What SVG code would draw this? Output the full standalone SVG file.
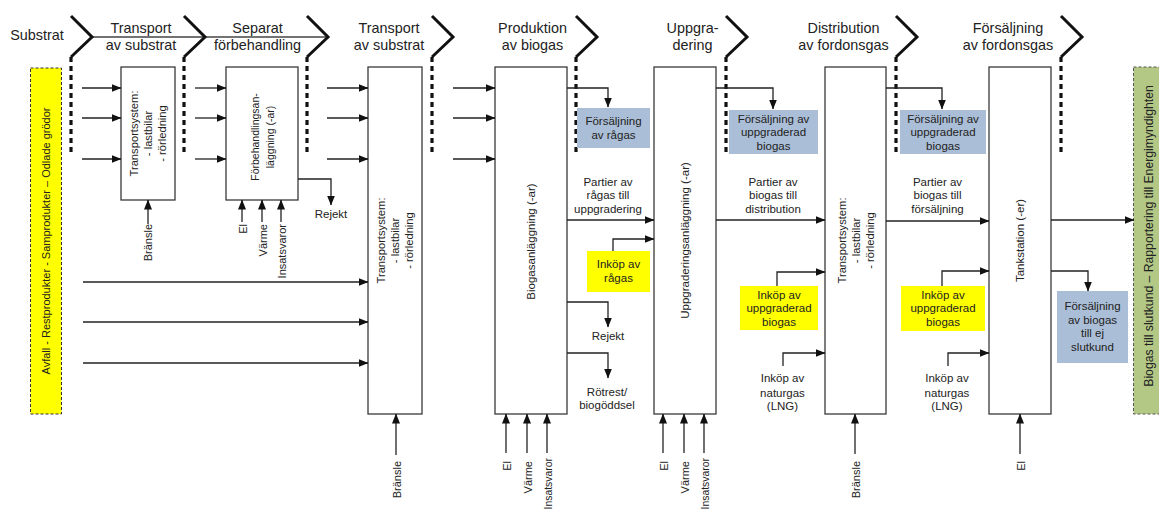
<svg xmlns="http://www.w3.org/2000/svg" width="1159" height="513" viewBox="0 0 1159 513">
<defs>
<marker id="ah" markerWidth="10" markerHeight="8" refX="9.5" refY="4" orient="auto" markerUnits="userSpaceOnUse"><path d="M0,0 L10,4 L0,8 Z" fill="#111"/></marker>
</defs>
<style>
text{font-family:"Liberation Sans",Arial,sans-serif;fill:#222}
.h{font-size:14.4px;text-anchor:middle}
.t{font-size:11.5px;text-anchor:middle}
.r{font-size:11px;text-anchor:end}
.ri{font-size:10.4px;text-anchor:end}
.box{fill:#fff;stroke:#3a3a3a;stroke-width:1.3}
.con{fill:none;stroke:#222;stroke-width:1.3}
.arr{marker-end:url(#ah)}
.chev{fill:none;stroke:#111;stroke-width:3}
.dot{fill:none;stroke:#111;stroke-width:3.2;stroke-dasharray:5 4}
.blue{fill:#abbed7}
.yel{fill:#ffff00}
</style>
<rect width="1159" height="513" fill="#fff"/>

<g id="header">
<path d="M92,37 H328" fill="none" stroke="#444" stroke-width="1.5"/>
<path class="chev" d="M71,16 L92,37 L71,57 M184,16 L205,37 L184,57 M307,16 L328,37 L307,57 M432,16 L453,37 L432,57 M576,16 L597,37 L576,57 M726,16 L747,37 L726,57 M896,16 L917,37 L896,57 M1061,16 L1082,37 L1061,57"/>
<path class="dot" d="M71,57 V155 M184,57 V155 M307,57 V155 M432,57 V155 M576,57 V155 M726,57 V155 M896,57 V155 M1061,57 V155"/>
<text class="h" x="37" y="40">Substrat</text>
<text class="h" x="141" y="33">Transport</text><text class="h" x="141" y="49.5">av substrat</text>
<text class="h" x="257.5" y="33">Separat</text><text class="h" x="257.5" y="49.5">förbehandling</text>
<text class="h" x="389" y="33">Transport</text><text class="h" x="389" y="49.5">av substrat</text>
<text class="h" x="532.5" y="33">Produktion</text><text class="h" x="532.5" y="49.5">av biogas</text>
<text class="h" x="692.5" y="33">Uppgra-</text><text class="h" x="692.5" y="49.5">dering</text>
<text class="h" x="843.5" y="33">Distribution</text><text class="h" x="843.5" y="49.5">av fordonsgas</text>
<text class="h" x="1008" y="33">Försäljning</text><text class="h" x="1008" y="49.5">av fordonsgas</text>
</g>

<g id="substrat">
<rect x="30.5" y="68" width="31" height="346" fill="#ffff00" stroke="#333" stroke-width="1" stroke-dasharray="3 2"/>
<text transform="translate(50,241) rotate(-90)" style="font-size:11px;text-anchor:middle">Avfall - Restprodukter - Samprodukter – Odlade grödor</text>
</g>

<g id="slutkund">
<rect x="1133.5" y="67" width="40" height="347" fill="#b4c886" stroke="#555" stroke-width="1" stroke-dasharray="3 2"/>
<text transform="translate(1153,236) rotate(-90)" style="font-size:12.2px;text-anchor:middle">Biogas till slutkund – Rapportering till Energimyndighten</text>
</g>

<g id="transport1">
<rect class="box" x="121" y="67" width="54" height="133"/>
<text class="t" transform="translate(148,133.5) rotate(-90)" style="font-size:11.2px"><tspan x="0" y="-10">Transportsystem:</tspan><tspan x="0" y="4">- lastbilar</tspan><tspan x="0" y="18">- rörledning</tspan></text>
</g>

<g id="forbehandling">
<rect class="box" x="226" y="67" width="72" height="133"/>
<text class="t" transform="translate(262,137) rotate(-90)" style="font-size:10.5px"><tspan x="0" y="-3">Förbehandlingsan-</tspan><tspan x="0" y="12">läggning (-ar)</tspan></text>
</g>

<g id="transport2">
<rect class="box" x="368" y="67" width="54" height="347"/>
<text class="t" transform="translate(395,240.5) rotate(-90)" style="font-size:11.2px"><tspan x="0" y="-10">Transportsystem:</tspan><tspan x="0" y="4">- lastbilar</tspan><tspan x="0" y="18">- rörledning</tspan></text>
</g>

<g id="biogasanlaggning">
<rect class="box" x="495" y="67" width="72" height="347"/>
<text class="t" transform="translate(535,241.5) rotate(-90)">Biogasanläggning (-ar)</text>
</g>

<g id="uppgradering">
<rect class="box" x="654" y="67" width="62" height="347"/>
<text class="t" transform="translate(689,240.5) rotate(-90)">Uppgraderingsanläggning (-ar)</text>
</g>

<g id="transport3">
<rect class="box" x="825" y="67" width="61" height="347"/>
<text class="t" transform="translate(856,240.5) rotate(-90)" style="font-size:11.2px"><tspan x="0" y="-10">Transportsystem:</tspan><tspan x="0" y="4">- lastbilar</tspan><tspan x="0" y="18">- rörledning</tspan></text>
</g>

<g id="tankstation">
<rect class="box" x="989" y="67" width="62" height="347"/>
<text class="t" transform="translate(1024,240.5) rotate(-90)">Tankstation (-er)</text>
</g>

<g id="salj-ragas">
<rect class="blue" x="577" y="108" width="73" height="40"/>
<text class="t" x="613.5" y="125">Försäljning</text><text class="t" x="613.5" y="138.5">av rågas</text>
</g>
<g id="salj-uppgr1">
<rect class="blue" x="729" y="110" width="89" height="44"/>
<text class="t" x="773.5" y="123">Försäljning av</text><text class="t" x="773.5" y="136.3">uppgraderad</text><text class="t" x="773.5" y="149.5">biogas</text>
</g>
<g id="salj-uppgr2">
<rect class="blue" x="900" y="110" width="86" height="44"/>
<text class="t" x="943" y="123">Försäljning av</text><text class="t" x="943" y="136.3">uppgraderad</text><text class="t" x="943" y="149.5">biogas</text>
</g>
<g id="salj-ej-slutkund">
<rect class="blue" x="1057" y="291" width="71" height="72"/>
<text class="t" x="1092.5" y="310">Försäljning</text><text class="t" x="1092.5" y="323.7">av biogas</text><text class="t" x="1092.5" y="337.4">till ej</text><text class="t" x="1092.5" y="351">slutkund</text>
</g>
<g id="inkop-ragas">
<rect class="yel" x="587" y="251" width="63" height="41"/>
<text class="t" x="618.5" y="268.3">Inköp av</text><text class="t" x="618.5" y="281.7">rågas</text>
</g>
<g id="inkop-uppgr1">
<rect class="yel" x="740" y="286" width="78" height="44"/>
<text class="t" x="779" y="299">Inköp av</text><text class="t" x="779" y="312.3">uppgraderad</text><text class="t" x="779" y="325.5">biogas</text>
</g>
<g id="inkop-uppgr2">
<rect class="yel" x="901" y="286" width="84" height="45"/>
<text class="t" x="943" y="299">Inköp av</text><text class="t" x="943" y="312.3">uppgraderad</text><text class="t" x="943" y="325.5">biogas</text>
</g>

<g id="labels">
<text class="t" x="331" y="218">Rejekt</text>
<text class="t" x="608" y="340">Rejekt</text>
<text class="t" x="607" y="395.7">Rötrest/</text><text class="t" x="607" y="409.3">biogöddsel</text>
<text class="t" x="608" y="186">Partier av</text><text class="t" x="608" y="199.3">rågas till</text><text class="t" x="608" y="212.6">uppgradering</text>
<text class="t" x="773" y="186">Partier av</text><text class="t" x="773" y="199.3">biogas till</text><text class="t" x="773" y="212.6">distribution</text>
<text class="t" x="937.5" y="186">Partier av</text><text class="t" x="937.5" y="199.3">biogas till</text><text class="t" x="937.5" y="212.6">försäljning</text>
<text class="t" x="782.5" y="382">Inköp av</text><text class="t" x="782.5" y="396.7">naturgas</text><text class="t" x="782.5" y="410">(LNG)</text>
<text class="t" x="947" y="382">Inköp av</text><text class="t" x="947" y="396.7">naturgas</text><text class="t" x="947" y="410">(LNG)</text>
<text class="r" transform="translate(152,224) rotate(-90)">Bränsle</text>
<text class="r" transform="translate(246.5,224) rotate(-90)">El</text>
<text class="r" transform="translate(266.5,224) rotate(-90)">Värme</text>
<text class="r" transform="translate(285.5,224) rotate(-90)">Insatsvaror</text>
<text class="r" transform="translate(400.5,461) rotate(-90)">Bränsle</text>
<text class="r" transform="translate(510.5,461) rotate(-90)">El</text>
<text class="r" transform="translate(531.5,461) rotate(-90)">Värme</text>
<text class="ri" transform="translate(551.5,458) rotate(-90)">Insatsvaror</text>
<text class="r" transform="translate(667.5,461) rotate(-90)">El</text>
<text class="r" transform="translate(688.5,461) rotate(-90)">Värme</text>
<text class="ri" transform="translate(708.5,458) rotate(-90)">Insatsvaror</text>
<text class="r" transform="translate(859.5,461) rotate(-90)">Bränsle</text>
<text class="r" transform="translate(1024.5,461) rotate(-90)">El</text>
</g>

<g id="connectors">
<path class="con arr" d="M82,88 H121"/><path class="con arr" d="M82,118 H121"/><path class="con arr" d="M82,159 H121"/>
<path class="con arr" d="M195,88 H226"/><path class="con arr" d="M195,118 H226"/><path class="con arr" d="M195,159 H226"/>
<path class="con arr" d="M327,88 H368"/><path class="con arr" d="M327,118 H368"/><path class="con arr" d="M327,159 H368"/>
<path class="con arr" d="M453,88 H495"/><path class="con arr" d="M453,118 H495"/><path class="con arr" d="M453,159 H495"/>
<path class="con arr" d="M83,282 H368"/><path class="con arr" d="M83,322 H368"/><path class="con arr" d="M83,363 H368"/>
<path class="con arr" d="M298,179 H331 V205"/>
<path class="con arr" d="M567,88 H608 V107"/>
<path class="con arr" d="M716,88 H773 V109"/>
<path class="con arr" d="M886,88 H942 V109"/>
<path class="con arr" d="M567,220 H654"/>
<path class="con arr" d="M613,251 V239 H654"/>
<path class="con arr" d="M567,302 H608 V327"/>
<path class="con arr" d="M567,353 H608 V378"/>
<path class="con arr" d="M716,220 H825"/>
<path class="con arr" d="M777,286 V272 H825"/>
<path class="con arr" d="M783,366 V353 H825"/>
<path class="con arr" d="M886,221 H989"/>
<path class="con arr" d="M942,286 V271 H989"/>
<path class="con arr" d="M948,366 V353 H989"/>
<path class="con arr" d="M1051,220 H1134"/>
<path class="con arr" d="M1051,271 H1088 V291"/>
<path class="con arr" d="M148,224 V200"/>
<path class="con arr" d="M242,222 V200"/><path class="con arr" d="M262,222 V200"/><path class="con arr" d="M281,222 V200"/>
<path class="con arr" d="M396,455 V414"/>
<path class="con arr" d="M506,453 V414"/><path class="con arr" d="M527,453 V414"/><path class="con arr" d="M547,453 V414"/>
<path class="con arr" d="M663,453 V414"/><path class="con arr" d="M684,453 V414"/><path class="con arr" d="M704,453 V414"/>
<path class="con arr" d="M855,454 V414"/>
<path class="con arr" d="M1020,454 V414"/>
</g>
</svg>
